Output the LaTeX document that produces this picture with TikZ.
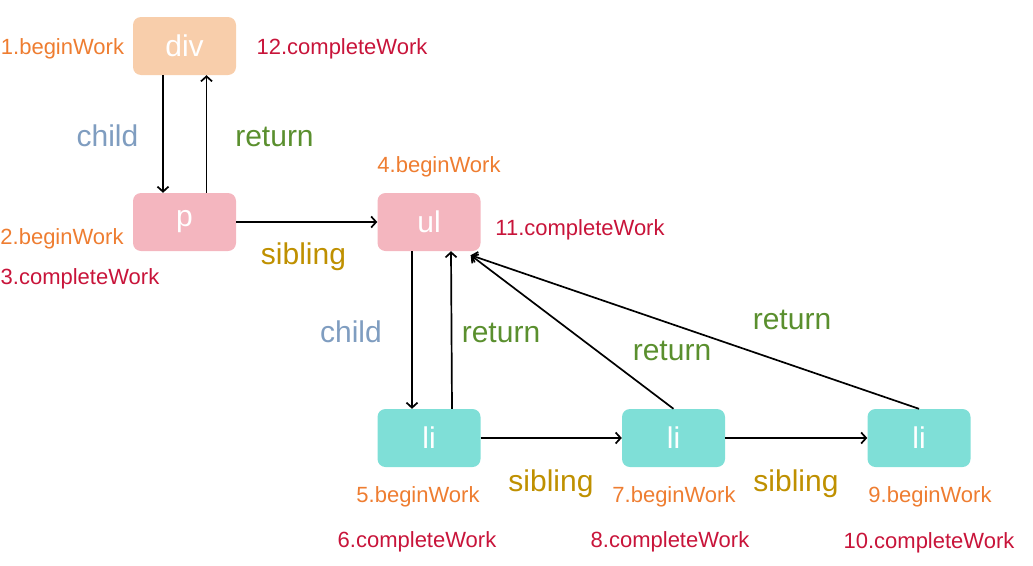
\documentclass[tikz,border=0pt]{standalone}
\usepackage{fontspec}
\setmainfont{Liberation Sans}
\usetikzlibrary{arrows.meta}
\definecolor{divfill}{HTML}{F8CEAB}
\definecolor{pinkfill}{HTML}{F4B6BF}
\definecolor{tealfill}{HTML}{7FDFD7}
\definecolor{begincol}{HTML}{EE7D31}
\definecolor{completecol}{HTML}{C8143A}
\definecolor{childcol}{HTML}{7F9DC0}
\definecolor{returncol}{HTML}{5A8F2E}
\definecolor{siblingcol}{HTML}{BF9000}
\begin{document}
\begin{tikzpicture}[
x=1pt, y=-1pt,
fibnode/.style={rectangle, rounded corners=8pt, minimum width=103pt, minimum height=58pt, inner sep=0pt, text=white, font=\fontsize{30}{30}\selectfont},
divnode/.style={fibnode, fill=divfill},
pinknode/.style={fibnode, fill=pinkfill},
linode/.style={fibnode, fill=tealfill},
worklabel/.style={inner sep=0pt, yshift=-2pt, font=\fontsize{22}{22}\selectfont},
beginlabel/.style={worklabel, text=begincol},
completelabel/.style={worklabel, text=completecol},
edgelabel/.style={inner sep=0pt, yshift=-2pt, font=\fontsize{30}{30}\selectfont},
childlabel/.style={edgelabel, text=childcol},
returnlabel/.style={edgelabel, text=returncol},
siblinglabel/.style={edgelabel, text=siblingcol},
link/.style={-{Straight Barb[length=5pt,width=11pt]}, line width=1.7pt},
]
\useasboundingbox (0,0) rectangle (1033,565);
%Nodes
\node[divnode](div) at (184.5,46){div};
\node[pinknode](p) at (184.5,222){p};
\node[pinknode](ul) at (429,222){ul};
\node[linode](li1) at (429,438){li};
\node[linode](li2) at (673.5,438){li};
\node[linode](li3) at (919,438){li};

%Work labels
\node[beginlabel](b1) at (62.5,47){1.beginWork};
\node[beginlabel](b2) at (62,237){2.beginWork};
\node[completelabel](c3) at (80,277){3.completeWork};
\node[beginlabel](b4) at (439,165){4.beginWork};
\node[beginlabel](b5) at (418,495){5.beginWork};
\node[completelabel](c6) at (417,540){6.completeWork};
\node[beginlabel](b7) at (674,495){7.beginWork};
\node[completelabel](c8) at (670,540){8.completeWork};
\node[beginlabel](b9) at (930,495){9.beginWork};
\node[completelabel](c10) at (929,541){10.completeWork};
\node[completelabel](c11) at (580,228){11.completeWork};
\node[completelabel](c12) at (342,47){12.completeWork};

%Edge labels
\node[childlabel](ch1) at (107.5,134){child};
\node[returnlabel](re1) at (274.5,135){return};
\node[siblinglabel](si1) at (303.5,255){sibling};
\node[childlabel](ch2) at (351,330){child};
\node[returnlabel](re2) at (501,331){return};
\node[returnlabel](re3) at (672,349){return};
\node[returnlabel](re4) at (792,318){return};
\node[siblinglabel](si2) at (551,482){sibling};
\node[siblinglabel](si3) at (796,482){sibling};

%Links
\draw[link] ([xshift=-21.5pt]div.south) -- ([xshift=-21.5pt]p.north);
\draw[link] ([xshift=22pt]p.north) -- ([xshift=22pt]div.south);
\draw[link] (p.east) -- (ul.west);
\draw[link] ([xshift=-17pt]ul.south) -- ([xshift=-17pt]li1.north);
\draw[link] ([xshift=23pt]li1.north) -- ([xshift=22pt]ul.south);
\draw[link] (li1.east) -- (li2.west);
\draw[link] (li2.east) -- (li3.west);
\draw[link] (li2.north) -- ([xshift=-10pt,yshift=-4pt]ul.south east);
\draw[link] (li3.north) -- ([xshift=-10pt,yshift=-4pt]ul.south east);
\end{tikzpicture}
\end{document}
